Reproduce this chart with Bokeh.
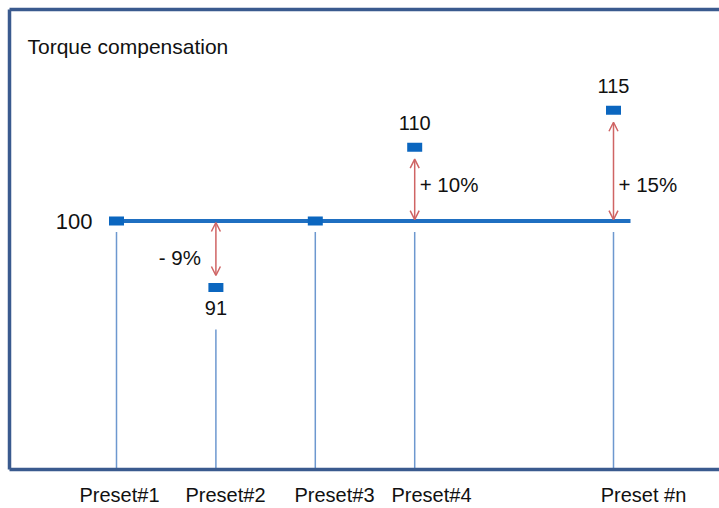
import numpy as np
from bokeh.plotting import figure
from bokeh.models import (Range1d, LinearAxis, FixedTicker, Arrow, OpenHead,
                          Label, CustomJSTickFormatter)
from bokeh.core.properties import value
from bokeh.embed import file_html
from bokeh.resources import INLINE

# ---- data ----
presets = ["Preset#1", "Preset#2", "Preset#3", "Preset#4", "Preset #n"]
preset_pos = [1, 2, 3, 4, 6]
torque = [100, 91, 100, 110, 115]
baseline = 100
title_text = "Torque compensation"

# ---- layout / style constants ----
W, H = 719, 508
ML, MT, MB = 9, 9, 38
FL, FT, FB, FR = ML, MT, H - MB, W   # frame edges, page px
XPX = 99.4        # px per x unit
YPX = 7.4         # px per torque unit
X1_PAGE = 116
Y100_PAGE = 221
FONT_NAME = "Liberation Sans"
FONT = value(FONT_NAME)
FRAME_COL = "#3a5a8e"
LINE_COL = "#1f6fc1"
MARK_COL = "#0b66bf"
VLINE_COL = "#6d98cf"
ARROW_COL = "#cf6464"
TEXT_COL = "#111111"
label_dx = [3, 9.6, 19.2, 16.8, 30]   # px shift of category labels

x_start = preset_pos[0] - (X1_PAGE - FL) / XPX
x_end = preset_pos[0] + (FR - X1_PAGE) / XPX
y_end = baseline + (Y100_PAGE - FT) / YPX
y_start = baseline - (FB - Y100_PAGE) / YPX


def px_x(px):
    return preset_pos[0] + (px - X1_PAGE) / XPX


def px_y(py):
    return baseline - (py - Y100_PAGE) / YPX


p = figure(width=W, height=H, output_backend="svg", toolbar_location=None,
           x_range=Range1d(x_start, x_end), y_range=Range1d(y_start, y_end),
           min_border_left=ML, min_border_right=0, min_border_top=MT,
           min_border_bottom=MB)
p.xgrid.visible = False
p.ygrid.visible = False
p.outline_line_color = None
p.background_fill_color = "white"
p.border_fill_color = "white"


def style_axis(ax):
    ax.major_tick_out = 0
    ax.major_tick_in = 0
    ax.minor_tick_out = 0
    ax.minor_tick_in = 0
    ax.axis_line_color = FRAME_COL
    ax.axis_line_width = 3.5


def blank_axis(ax):
    style_axis(ax)
    ax.ticker = FixedTicker(ticks=[])
    ax.major_label_text_font_size = "0px"


# left frame edge
for ax in p.left:
    blank_axis(ax)

# bottom axis carries the preset names
bottom = p.below[0]
style_axis(bottom)
bottom.ticker = FixedTicker(ticks=[pp + dx / XPX for pp, dx in zip(preset_pos, label_dx)])
bottom.formatter = CustomJSTickFormatter(args=dict(labels=presets),
                                         code="return labels[index];")
bottom.major_label_text_font = FONT_NAME
bottom.major_label_text_font_size = "20px"
bottom.major_label_text_color = TEXT_COL
bottom.major_label_standoff = 14

# top frame edge
top_axis = LinearAxis()
blank_axis(top_axis)
p.add_layout(top_axis, "above")

# baseline line
p.segment(x0=[preset_pos[0] - 6 / XPX], y0=[baseline],
          x1=[preset_pos[-1] + 17 / XPX], y1=[baseline],
          line_color=LINE_COL, line_width=4)

# vertical preset lines
tops = [baseline - 11 / YPX if v >= baseline else v - 42 / YPX for v in torque]
p.segment(x0=preset_pos, y0=[y_start] * len(preset_pos), x1=preset_pos, y1=tops,
          line_color=VLINE_COL, line_width=1.5)

# markers
p.rect(x=preset_pos, y=torque, width=15, height=9, width_units="screen",
       height_units="screen", fill_color=MARK_COL, line_color=None)

# arrows, value labels, percentage labels
vx, vy, vt = [], [], []
px_, py_, pt_, pa_, pdx = [], [], [], [], []
for x, v in zip(preset_pos, torque):
    d = v - baseline
    if d == 0:
        continue
    s = 1 if d > 0 else -1
    head = dict(size=9, line_color=ARROW_COL, line_width=1.5)
    p.add_layout(Arrow(start=OpenHead(**head), end=OpenHead(**head),
                       x_start=x, y_start=baseline + s * 1.5 / YPX,
                       x_end=x, y_end=v - s * 12 / YPX,
                       line_color=ARROW_COL, line_width=1.5))
    vx.append(x)
    vy.append(v + (24 if s > 0 else -21) / YPX)
    vt.append(str(v))
    pct = round(d / baseline * 100)
    px_.append(x)
    py_.append(baseline + s * 37 / YPX)
    pt_.append(f"{'+' if s > 0 else '-'} {abs(pct)}%")
    pa_.append("left" if s > 0 else "right")
    pdx.append(5 if s > 0 else -15)

p.text(x=vx, y=vy, text=vt, text_font=FONT, text_font_size="20px",
       text_align="center", text_baseline="middle", text_color=TEXT_COL)
p.text(x=px_, y=py_, text=pt_, x_offset=pdx, text_align=pa_, text_font=FONT,
       text_font_size="20.5px", text_baseline="middle", text_color=TEXT_COL)

# baseline value label
p.text(x=[preset_pos[0]], y=[baseline], text=[str(baseline)], x_offset=-24,
       text_font=FONT, text_font_size="22px", text_align="right",
       text_baseline="middle", text_color=TEXT_COL)

# title inside frame
p.add_layout(Label(x=px_x(27), y=px_y(46.5), text=title_text,
                   text_font=FONT_NAME, text_font_size="21px", text_align="left",
                   text_baseline="middle", text_color=TEXT_COL))

open("out.html", "w").write(file_html(p, INLINE))
